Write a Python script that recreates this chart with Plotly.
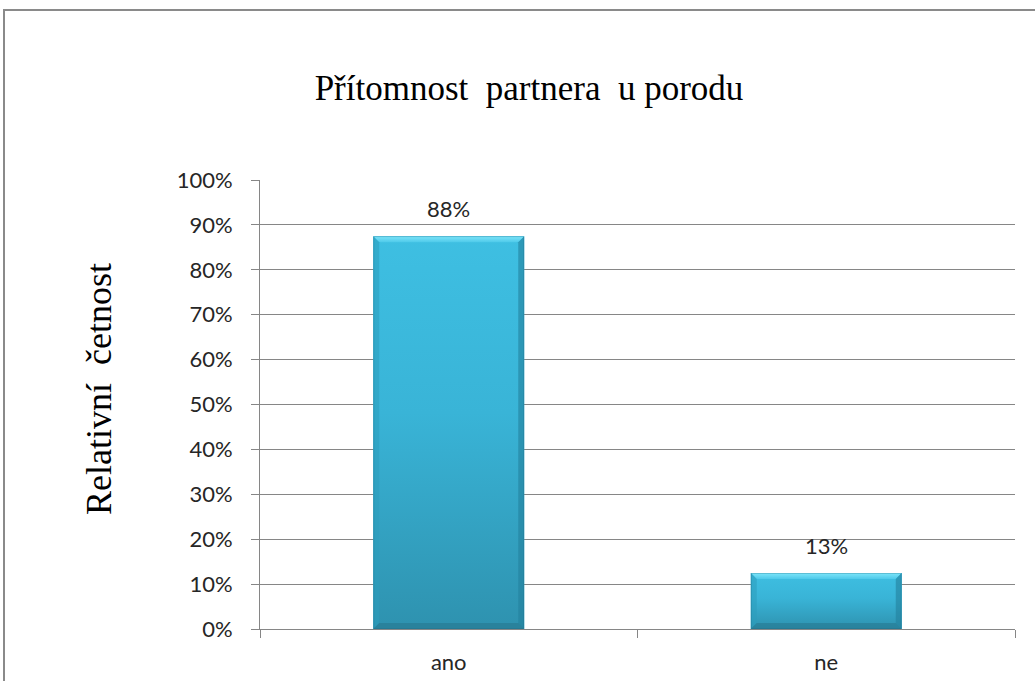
import base64
import plotly.graph_objects as go

# Data
categories = ["ano", "ne"]
shares = [0.875, 0.125]
y_ticks = [0, 0.1, 0.2, 0.3, 0.4, 0.5, 0.6, 0.7, 0.8, 0.9, 1.0]

title_text = "Přítomnost&nbsp; partnera&nbsp; u porodu"
y_title = "Relativní&nbsp; četnost"

# Canvas / plot-area geometry (pixels)
W, H = 1035, 681
M_L, M_R, M_T, M_B = 260, 20, 180, 52
PLOT_W = W - M_L - M_R
PLOT_H = H - M_T - M_B
BAR_W = 0.4  # fraction of a category slot

LABEL_FONT = "Lato, 'Open Sans', sans-serif"
SERIF_FONT = "'Liberation Serif', 'Times New Roman', serif"


def bevel_svg(w, h, b=6):
    """Bevelled bar face as an SVG data URI (w x h pixels)."""
    b = min(b, h / 3, w / 3)
    svg = f"""<svg xmlns='http://www.w3.org/2000/svg' width='{w:.1f}' height='{h:.1f}' viewBox='0 0 {w:.2f} {h:.2f}' preserveAspectRatio='none'>
<defs>
<linearGradient id='g' x1='0' y1='0' x2='0' y2='1'>
<stop offset='0' stop-color='#3EBFE2'/><stop offset='0.45' stop-color='#39B4D7'/><stop offset='1' stop-color='#2E92AF'/>
</linearGradient>
<linearGradient id='t' x1='0' y1='0' x2='0' y2='1'>
<stop offset='0' stop-color='#7FE6FA'/><stop offset='1' stop-color='#4FCAEA'/>
</linearGradient>
</defs>
<rect x='0' y='0' width='{w:.2f}' height='{h:.2f}' fill='url(#g)'/>
<polygon points='0,0 {w:.2f},0 {w-b:.2f},{b:.2f} {b:.2f},{b:.2f}' fill='url(#t)'/>
<polygon points='0,0 {b:.2f},{b:.2f} {b:.2f},{h-b:.2f} 0,{h:.2f}' fill='#2B9CBC' fill-opacity='0.55'/>
<polygon points='{w:.2f},0 {w:.2f},{h:.2f} {w-b:.2f},{h-b:.2f} {w-b:.2f},{b:.2f}' fill='#23809C' fill-opacity='0.6'/>
<polygon points='0,{h:.2f} {b:.2f},{h-b:.2f} {w-b:.2f},{h-b:.2f} {w:.2f},{h:.2f}' fill='#246F86' fill-opacity='0.45'/>
<rect x='0.5' y='0.5' width='{w-1:.2f}' height='{h-1:.2f}' fill='none' stroke='#1F6E86' stroke-opacity='0.35' stroke-width='1'/>
</svg>"""
    return "data:image/svg+xml;base64," + base64.b64encode(svg.encode()).decode()


fig = go.Figure(
    go.Bar(
        x=categories,
        y=shares,
        width=BAR_W,
        marker=dict(color="#36ADD0", line=dict(width=0)),
        hoverinfo="skip",
    )
)

# Bevelled face over each bar, placed in data coordinates
slot_px = PLOT_W / len(categories)
images = []
annotations = []
for i, (cat, v) in enumerate(zip(categories, shares)):
    bar_px_w = BAR_W * slot_px
    bar_px_h = v * PLOT_H
    images.append(dict(
        source=bevel_svg(bar_px_w, bar_px_h),
        xref="x", yref="y",
        x=i - BAR_W / 2, y=v,
        sizex=BAR_W, sizey=v,
        xanchor="left", yanchor="top",
        sizing="stretch", layer="above",
    ))
    annotations.append(dict(
        x=cat, y=v, xref="x", yref="y",
        text=f"{int(v * 100 + 0.5)}%",
        showarrow=False, yanchor="bottom", yshift=12,
        font=dict(family=LABEL_FONT, size=22, color="#262626"),
    ))

# Y-axis title
annotations.append(dict(
    x=(99 - M_L) / PLOT_W, y=(H - M_B - 389) / PLOT_H, xref="paper", yref="paper",
    text=y_title, textangle=-90, showarrow=False,
    xanchor="center", yanchor="middle",
    font=dict(family=SERIF_FONT, size=36, color="#000000"),
))

# Outer chart border
shapes = [dict(
    type="rect", xref="paper", yref="paper",
    x0=(4 - M_L) / PLOT_W, x1=(W + 10 - M_L) / PLOT_W,
    y0=-(H + 10 - M_T - PLOT_H) / PLOT_H, y1=(H - 10 - M_B) / PLOT_H,
    line=dict(color="#8A8A8A", width=2), fillcolor="rgba(0,0,0,0)",
    layer="below",
)]

fig.update_layout(
    width=W, height=H,
    margin=dict(l=M_L, r=M_R, t=M_T, b=M_B, autoexpand=False),
    paper_bgcolor="#FFFFFF", plot_bgcolor="#FFFFFF",
    showlegend=False,
    bargap=1 - BAR_W,
    title=dict(
        text=title_text, x=529 / W, xanchor="center",
        y=1 - 88 / H, yanchor="middle",
        font=dict(family=SERIF_FONT, size=35, color="#000000"),
    ),
    images=images,
    annotations=annotations,
    shapes=shapes,
    xaxis=dict(
        type="category",
        automargin=False,
        showline=True, linecolor="#868686", linewidth=1,
        ticks="outside", tickson="boundaries", ticklen=8,
        tickcolor="#868686", tickwidth=1,
        showgrid=False,
        tickfont=dict(family=LABEL_FONT, size=22, color="#262626"),
        ticklabelstandoff=14,
    ),
    yaxis=dict(
        range=[0, 1],
        automargin=False,
        tickvals=y_ticks,
        tickformat=".0%",
        showline=True, linecolor="#868686", linewidth=1,
        ticks="outside", ticklen=8, tickcolor="#868686", tickwidth=1,
        showgrid=True, gridcolor="#868686", gridwidth=1,
        zeroline=False,
        tickfont=dict(family=LABEL_FONT, size=22, color="#262626"),
        ticklabelstandoff=14,
    ),
)

fig.write_html("out.html")
